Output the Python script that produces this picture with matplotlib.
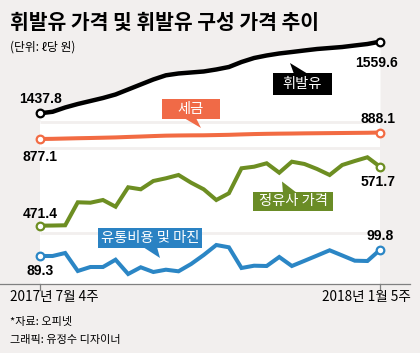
import matplotlib
matplotlib.use('Agg')
import matplotlib.pyplot as plt
import numpy as np
from matplotlib import font_manager
from matplotlib.patches import Rectangle, Polygon
from matplotlib.transforms import offset_copy

plt.rcParams['font.family'] = ['Noto Sans CJK KR', 'DejaVu Sans']

# 주간 데이터 (2017년 7월 4주 ~ 2018년 1월 5주, 원/ℓ)
weeks = np.arange(28)
gasoline = [1437.8, 1440.4, 1447.7, 1453.6, 1458.7, 1463.8, 1469.8, 1478.3, 1486.8, 1495.3,
            1502.4, 1505.5, 1507.2, 1508.9, 1512.3, 1516.5, 1525.0, 1531.8, 1536.1, 1539.5,
            1542.0, 1544.6, 1547.1, 1548.8, 1550.5, 1553.1, 1555.6, 1559.6]
tax = [877.1, 877.4, 877.9, 878.4, 878.8, 879.3, 879.8, 880.6, 881.3, 882.1,
       882.8, 883.1, 883.3, 883.4, 883.8, 884.2, 884.9, 885.5, 885.9, 886.2,
       886.4, 886.7, 886.9, 887.1, 887.3, 887.5, 887.7, 888.1]
refinery = [471.4, 471.7, 472.1, 511.2, 510.5, 515.1, 503.7, 536.7, 533.3, 547.4,
            552.0, 557.6, 544.5, 533.3, 515.1, 526.5, 569.0, 571.7, 577.5, 561.5,
            580.2, 576.3, 567.8, 557.6, 574.6, 581.4, 587.7, 571.7]
margin = [89.3, 89.3, 94.4, 63.8, 70.6, 70.6, 83.0, 58.7, 70.1, 62.1,
          66.0, 63.3, 75.7, 91.0, 108.0, 104.1, 68.9, 72.8, 72.3, 87.6,
          72.3, 81.1, 90.0, 99.0, 90.2, 81.3, 80.8, 99.8]
x_labels = ['2017년 7월 4주', '2018년 1월 5주']

BG = '#f2efee'
BLACK = '#000000'
RED = '#f26b43'
GREEN = '#6d8e22'
BLUE = '#2b86c5'

W, H = 420, 353
fig = plt.figure(figsize=(W / 100, H / 100), dpi=100, facecolor=BG)

# x: 0주 -> 40px, 27주 -> 380px
dx = 340 / 27
xlim = (-40 / dx, 27 + (W - 380) / dx)
S = 1.7  # 원 / px (모든 패널 공통 축척)


def panel(top, bottom, v0, y0):
    ax = fig.add_axes([0, 1 - bottom / H, 1, (bottom - top) / H])
    ax.set_xlim(*xlim)
    ax.set_ylim(v0 - (bottom - y0) * S, v0 + (y0 - top) * S)
    ax.set_facecolor('none')
    ax.axis('off')
    return ax


ax1 = panel(28, 122, gasoline[0], 113.3)
ax2 = panel(122, 148, tax[0], 139)
ax3 = panel(148, 233, refinery[0], 225.7)
ax4 = panel(233, 284, margin[0], 256)

# 흰 배경 영역
lo1 = ax1.get_ylim()[0]
ax1.fill_between(weeks, gasoline, lo1, color='white', lw=0, zorder=0)
for ax in (ax2, ax3, ax4):
    ax.axvspan(0, 27, color='white', lw=0, zorder=0)
    top = ax.get_ylim()[1]
    ax.plot([0, 27], [top, top], color=BG, lw=2, solid_capstyle='butt', zorder=1, clip_on=False)

series = [(ax1, gasoline, BLACK, 3.2), (ax2, tax, RED, 2.9),
          (ax3, refinery, GREEN, 2.9), (ax4, margin, BLUE, 2.9)]
for ax, vals, col, lw in series:
    ax.plot(weeks, vals, color=col, lw=lw, solid_joinstyle='miter', zorder=3, clip_on=False)
    ax.plot([weeks[0], weeks[-1]], [vals[0], vals[-1]], 'o', ms=5.5, mfc='white',
            mec=col, mew=1.6, zorder=4, clip_on=False)

# 값 라벨 (좁은 글꼴이 있으면 사용)
names = {f.name for f in font_manager.fontManager.ttflist}
if 'Liberation Sans Narrow' in names:
    num_family, num_size = 'Liberation Sans Narrow', 11.5
else:
    num_family, num_size = 'Liberation Sans', 10

labels = [(ax1, gasoline, (1, 14), (-3, -21)),
          (ax2, tax, (0, -18), (-2, 13.5)),
          (ax3, refinery, (0, 12), (-2, -15)),
          (ax4, margin, (0, -15), (0, 14))]
for ax, vals, off0, off1 in labels:
    for i, off in ((0, off0), (-1, off1)):
        tr = offset_copy(ax.transData, fig=fig, x=off[0], y=off[1], units='dots')
        fig.text(weeks[i], vals[i], f'{vals[i]:.1f}', transform=tr, family=num_family,
                 fontsize=num_size, fontweight='bold', ha='center', va='center', zorder=6)

# 하단 축
lo4 = ax4.get_ylim()[0]
ax4.plot([xlim[0], (410 - 40) / dx], [lo4, lo4], color='#808080', lw=0.9, clip_on=False, zorder=2)
for t in (0, 27):
    ax4.plot([t, t], [lo4, lo4 - 6 * S], color='#808080', lw=0.9, clip_on=False)
fig.text(10 / W, 1 - 297 / H, x_labels[0], fontsize=9.8, ha='left', va='center')
fig.text(411 / W, 1 - 297 / H, x_labels[1], fontsize=9.8, ha='right', va='center')


# 말풍선
def callout(text, x0, y0, x1, y1, col, tail):
    fig.add_artist(Rectangle((x0 / W, 1 - y1 / H), (x1 - x0) / W, (y1 - y0) / H,
                             transform=fig.transFigure, color=col, lw=0, zorder=5))
    fig.add_artist(Polygon([(px / W, 1 - py / H) for px, py in tail], closed=True,
                           transform=fig.transFigure, color=col, lw=0, zorder=5))
    fig.text((x0 + x1) / 2 / W, 1 - (y0 + y1) / 2 / H, text, color='white', fontsize=10.3,
             ha='center', va='center', zorder=6)


callout('휘발유', 273, 73, 332, 95, BLACK, [(294, 74), (308, 74), (290, 63)])
callout('세금', 162, 99, 220, 119, '#f06a47', [(184, 118), (196, 118), (201, 128)])
callout('정유사 가격', 253, 192, 333, 211, '#6a8c26', [(283, 193), (297, 193), (282, 181.5)])
callout('유통비용 및 마진', 98, 228, 202, 248, '#2a82c3', [(143, 247), (157, 247), (160, 258)])

# 제목 / 출처
fig.text(10 / W, 1 - 22 / H, '휘발유 가격 및 휘발유 구성 가격 추이', fontsize=14.7,
         fontweight='bold', ha='left', va='center')
fig.text(10 / W, 1 - 47 / H, '(단위: ℓ당 원)', fontsize=8.5, ha='left', va='center')
fig.text(10 / W, 1 - 322 / H, '*자료: 오피넷', fontsize=8, ha='left', va='center')
fig.text(10 / W, 1 - 340 / H, '그래픽: 유정수 디자이너', fontsize=8, ha='left', va='center')

fig.savefig('out.png', dpi=100, facecolor=BG)
